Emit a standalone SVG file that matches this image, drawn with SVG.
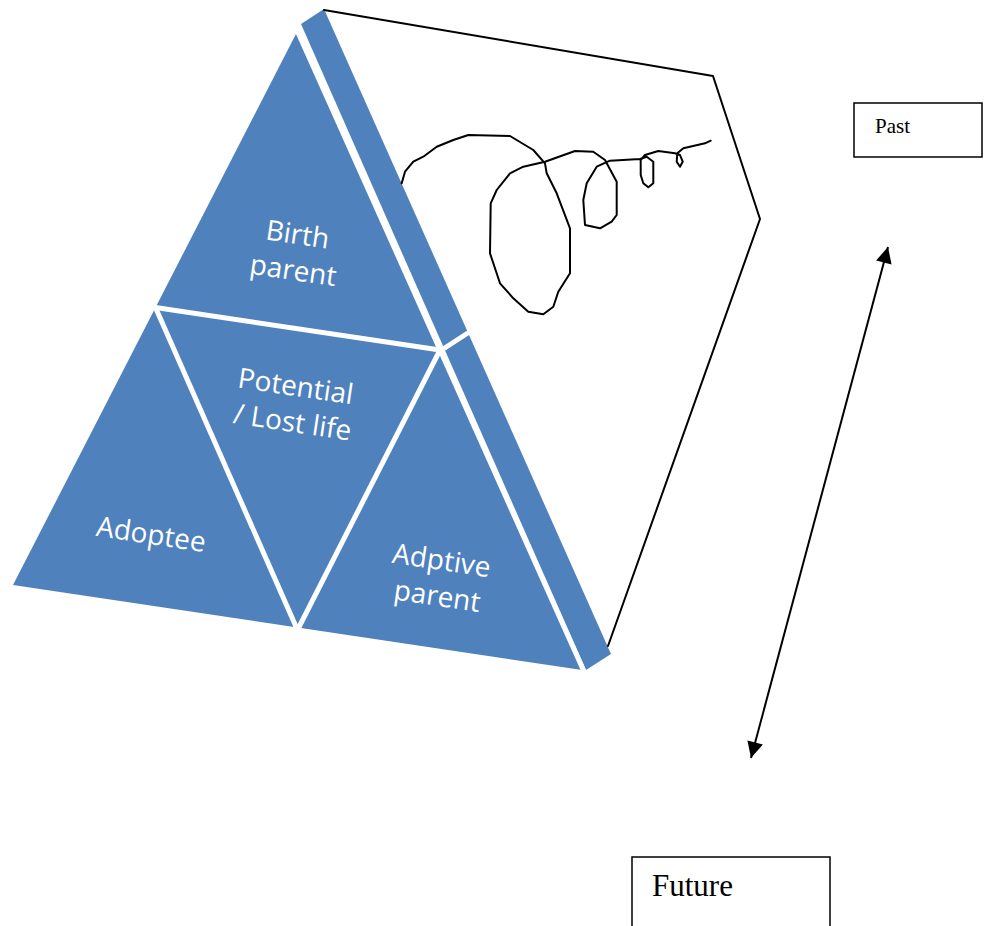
<svg xmlns="http://www.w3.org/2000/svg" width="992" height="926" viewBox="0 0 992 926">
  <defs>
    <style>
      .blue { fill: #4F81BD; }
      .gap { stroke: #FFFFFF; stroke-width: 5; fill: none; }
      .ink { stroke: #000000; stroke-width: 2; fill: none; stroke-linejoin: round; stroke-linecap: round; }
      .lbl { font-family: "Open Sans", "Liberation Sans", sans-serif; font-size: 28px; fill: #FFFFFF; text-anchor: middle; }
      .box { fill: #FFFFFF; stroke: #000000; stroke-width: 1.5; }
      .tm { font-family: "Liberation Serif", "Times New Roman", serif; fill: #000000; }
    </style>
    <marker id="ah" viewBox="0 0 10 10" refX="10" refY="5" markerWidth="9" markerHeight="8" orient="auto-start-reverse" markerUnits="strokeWidth">
      <path d="M0,0 L10,5 L0,10 z" fill="#000000"/>
    </marker>
  </defs>

  <g id="pyramid">
    <polygon class="blue" points="298,30 13,585 582,670"/>
    <polygon class="blue" points="301,24 324,9 611,654 586,670"/>
    <line class="gap" x1="155.5" y1="307.5" x2="440" y2="350"/>
    <line class="gap" x1="155.5" y1="307.5" x2="297.5" y2="630"/>
    <line class="gap" x1="440" y1="350" x2="297.5" y2="630"/>
    <line class="gap" x1="296" y1="28" x2="586" y2="676"/>
    <line class="gap" x1="437" y1="353" x2="474" y2="329"/>
  </g>

  <g id="birth-parent">
    <text class="lbl" transform="rotate(8.5 295 252)" x="295" y="244">Birth</text>
    <text class="lbl" transform="rotate(8.5 295 252)" x="296" y="280">parent</text>
  </g>
  <g id="potential-lost-life">
    <text class="lbl" transform="rotate(8.5 295 405)" x="293" y="396">Potential</text>
    <text class="lbl" transform="rotate(8.5 295 405)" x="295" y="432">/ Lost life</text>
  </g>
  <g id="adoptee">
    <text class="lbl" transform="rotate(8.5 151 535)" x="151" y="544">Adoptee</text>
  </g>
  <g id="adptive-parent">
    <text class="lbl" transform="rotate(8.5 440 578)" x="439" y="570">Adptive</text>
    <text class="lbl" transform="rotate(8.5 440 578)" x="440" y="606">parent</text>
  </g>

  <g id="back-face">
    <polyline class="ink" points="324,10 713,76 760,219 608,646"/>
    <path class="ink" d="M401.7,183.3 L405,171.7 L413.3,161.7 L423.3,156.7 L436.7,146.7 L453.3,140 L468.3,135 L510,136 L533.3,150 L545,163.3 L546.7,173.3 L556.7,193.3 L570,228.3 L570,273.3 L558.3,291.7 L553.3,306.7 L543.3,314.3 L528.3,311.7 L513.3,298.3 L500,283.3 L490,253.3 L490.7,203.3 L496.7,190 L510,173.3 L523.3,166.7 L545,161.7 L575,151 L593.3,151.7 L605,160 L616.7,181.7 L616.7,215 L611.7,221.7 L600,228.3 L585,225 L583.3,200 L586.7,183.3 L596.7,166.7 L610,160.7 L640,159 L646.7,156.7 L653.3,161.7 L653.3,183.3 L648.3,187.3 L643.3,183.3 L640.7,175 L640.7,160 L645,155 L658.3,151 L675,153.3 L680,155 L682.7,161.7 L680,166.7 L676.7,161.7 L677.3,153.3 L683.3,148.3 L705,143.3 L710.7,140.7"/>
  </g>

  <g id="connectors">
    <line x1="888" y1="247" x2="751" y2="758" stroke="#000000" stroke-width="2" marker-start="url(#ah)" marker-end="url(#ah)"/>
  </g>

  <g id="past">
    <rect class="box" x="854" y="103" width="128" height="54"/>
    <text class="tm" x="875" y="133" font-size="21">Past</text>
  </g>
  <g id="future">
    <rect class="box" x="632" y="857" width="198" height="80"/>
    <text class="tm" x="652" y="896" font-size="31">Future</text>
  </g>
</svg>
